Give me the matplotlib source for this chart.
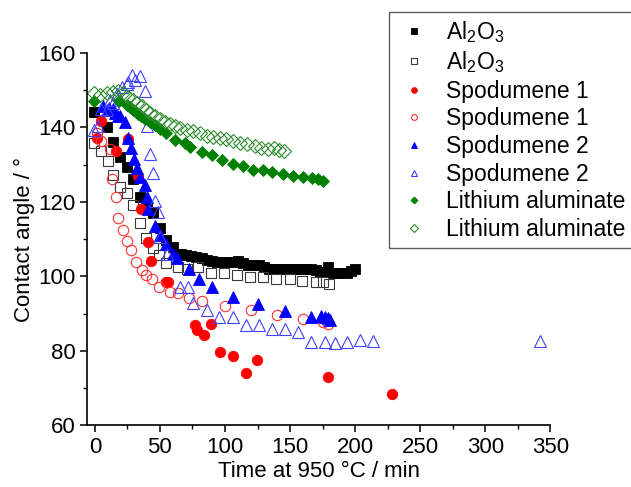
import matplotlib
matplotlib.use("Agg")
import matplotlib.pyplot as plt
from matplotlib.ticker import MultipleLocator

plt.rcParams['font.family'] = ['Liberation Sans', 'DejaVu Sans']
plt.rcParams['mathtext.fontset'] = 'custom'
plt.rcParams['mathtext.rm'] = 'Liberation Sans'
plt.rcParams['mathtext.it'] = 'Liberation Sans'

# Al2O3 (filled / open)
al_fill_x = [-1, 9, 14, 19.5, 25, 29.5, 34.5, 40, 45, 50, 55, 60, 63, 66, 70, 74, 78, 82, 86, 90,
             94, 98, 102, 106, 110, 114, 118, 122, 126, 130, 134, 138, 142, 146, 150, 154, 158, 162,
             166, 170, 173, 176, 179.5, 183, 186, 190, 193.5, 197, 200]
al_fill_y = [144.2, 140.2, 136.2, 132.2, 129.3, 126.1, 121.2, 118.5, 116.9, 112.9, 109.7, 108.0,
             106.1, 105.9, 105.7, 105.4, 105.2, 104.8, 104.4, 104.2, 103.9, 103.9, 103.9, 103.9,
             104.0, 103.6, 103.0, 103.0, 103.0, 102.6, 102.1, 102.1, 102.1, 102.1, 102.1, 102.1,
             102.1, 102.1, 102.1, 101.6, 101.2, 101.2, 102.4, 101.0, 101.0, 101.0, 101.0, 101.4, 102.1]
al_open_x = [-1, 4.5, 10, 14, 19.5, 24.5, 29, 34.5, 39, 44.5, 49, 54.5, 64, 71, 79.5, 89.5, 99.5,
             109.5, 119.5, 129.5, 139.5, 150, 159.5, 170, 175, 180]
al_open_y = [135.8, 133.8, 130.9, 127.2, 124.0, 122.3, 119.1, 114.2, 110.2, 107.5, 105.7, 103.7,
             102.4, 101.9, 102.4, 100.8, 100.8, 100.3, 99.9, 99.9, 99.2, 99.2, 98.7, 98.5, 98.5, 97.9]

# Spodumene 1
sp1_fill_x = [2, 4.5, 16.5, 25.5, 33, 35.5, 41, 43.5, 54.5, 56.5, 77, 78.5, 84, 89, 96, 106, 116,
              124.5, 179, 228]
sp1_fill_y = [137.3, 141.8, 133.6, 137.0, 127.0, 118.0, 109.3, 104.0, 98.5, 98.4, 86.9, 85.5, 84.2,
              87.1, 79.7, 78.5, 74.1, 77.4, 73.0, 68.3]
sp1_open_x = [2, 5, 11.5, 13.3, 16, 18, 21.8, 24.8, 28, 31.8, 36.4, 39.5, 43.6, 49.5, 57.7, 64, 72,
              82, 100, 120, 139.7, 160, 175.6, 179.5]
sp1_open_y = [138.5, 136.5, 134.3, 126.1, 121.2, 115.8, 112.5, 109.5, 107.0, 103.9, 101.7, 100.3,
              99.2, 97.2, 95.7, 95.6, 94.2, 93.3, 92.0, 90.9, 89.7, 88.4, 87.8, 87.3]

# Spodumene 2
sp2_fill_x = [6.5, 11, 14, 15.5, 18, 19.5, 23, 25.6, 27.5, 30, 32.6, 34.6, 38.5, 40, 41, 46, 50, 55,
              60, 63, 72, 80, 90, 106, 125, 146, 166, 174, 177, 179, 181]
sp2_fill_y = [145.7, 145.2, 145.1, 143.9, 143.0, 143.0, 141.5, 137.1, 134.5, 131.4, 129.0, 126.8,
              124.5, 121.4, 118.2, 113.4, 111.1, 108.8, 106.1, 105.0, 101.9, 99.2, 97.0, 94.5, 92.5,
              90.6, 89.1, 89.3, 89.0, 88.7, 88.2]
sp2_open_x = [-1, 2.5, 5, 9, 11.5, 20.5, 24.5, 25.6, 28.2, 30.8, 34.6, 38.5, 40, 42, 44.8, 46.2,
              48.5, 50, 55.8, 65.6, 71.8, 75.6, 86, 95.6, 106, 116, 126, 136, 146, 156.4, 166, 177,
              184.6, 194, 204, 214, 342, 14, 17]
sp2_open_y = [139.2, 140.3, 145.1, 144.7, 147.5, 151.0, 151.8, 152.3, 154.1, 152.7, 153.9, 149.7,
              140.5, 132.8, 127.9, 120.3, 117.4, 110.7, 106.1, 97.2, 97.2, 92.9, 90.9, 89.1, 89.1,
              86.9, 86.8, 85.8, 85.8, 85.1, 82.3, 82.3, 82.0, 82.3, 82.8, 82.6, 82.6, 146.5, 149.0]

# Lithium aluminate
li_fill_x = [-1, 18.5, 24.5, 27, 29.5, 31.5, 33.5, 35.5, 38.5, 42.3, 46.2, 50, 55, 61.5, 69, 73, 82,
             89.7, 98, 106, 113.6, 121.8, 129, 136, 144.6, 152, 160, 167, 171.5, 175.5]
li_fill_y = [147.0, 147.2, 146.0, 145.5, 144.8, 144.2, 143.6, 143.0, 142.4, 141.6, 140.6, 139.7,
             138.4, 136.6, 135.7, 134.7, 133.5, 132.6, 131.2, 130.3, 129.6, 128.7, 128.5, 128.1,
             127.5, 127.0, 126.7, 126.4, 126.1, 125.7]
li_open_x = [-1, 4, 9, 14, 18, 21.8, 25.6, 29, 32, 36, 39.2, 42.3, 46.2, 50, 53.8, 57.7, 61.5, 65.4,
             70.5, 75.6, 80.8, 86, 91, 96, 101, 106, 111.5, 116.7, 123, 128, 133, 137.5, 141.5, 145.5]
li_open_y = [149.4, 148.7, 149.2, 149.6, 149.9, 149.2, 148.3, 147.4, 146.7, 145.7, 144.8, 143.9,
             143.0, 142.3, 141.6, 141.0, 140.3, 139.9, 139.4, 139.0, 138.4, 137.8, 137.5, 137.2,
             136.8, 136.3, 135.9, 135.5, 135.0, 134.6, 134.3, 134.5, 134.0, 133.7]

fig = plt.figure(figsize=(6.31, 4.87), dpi=100)
ax = fig.add_axes([0.138, 0.127, 0.734, 0.764])

al = 'Al$_2$O$_3$'
series = [
    (al_fill_x, al_fill_y, 's', 'black', True, al, 7),
    (al_open_x, al_open_y, 's', '#3a3a3a', False, al, 7),
    (sp1_fill_x, sp1_fill_y, 'o', '#ff0000', True, 'Spodumene 1', 7.5),
    (sp1_open_x, sp1_open_y, 'o', '#ff3030', False, 'Spodumene 1', 7.5),
    (sp2_fill_x, sp2_fill_y, '^', '#0000ff', True, 'Spodumene 2', 8),
    (sp2_open_x, sp2_open_y, '^', '#4040ff', False, 'Spodumene 2', 8),
    (li_fill_x, li_fill_y, 'D', '#008000', True, 'Lithium aluminate', 6.5),
    (li_open_x, li_open_y, 'D', '#2e8b2e', False, 'Lithium aluminate', 7),
]
for x, y, m, c, filled, lab, ms in series:
    ax.plot(x, y, linestyle='none', marker=m, markersize=ms,
            markerfacecolor=c if filled else 'none', markeredgecolor=c,
            markeredgewidth=0.6 if filled else 0.8, label=lab, clip_on=False)

ax.set_xlim(-6, 350)
ax.set_ylim(60, 160)
ax.xaxis.set_major_locator(MultipleLocator(50))
ax.xaxis.set_minor_locator(MultipleLocator(25))
ax.yaxis.set_major_locator(MultipleLocator(20))
ax.yaxis.set_minor_locator(MultipleLocator(10))
ax.spines['top'].set_visible(False)
ax.spines['right'].set_visible(False)
ax.spines['left'].set_bounds(60, 160)
ax.spines['bottom'].set_bounds(-6, 350)
for s in ('left', 'bottom'):
    ax.spines[s].set_linewidth(1.2)
ax.tick_params(which='major', direction='out', length=5, width=1.1, labelsize=16)
ax.tick_params(which='minor', direction='out', length=3, width=1.0)
ax.set_xlabel('Time at 950 °C / min', fontsize=16, labelpad=2)
ax.set_ylabel('Contact angle / °', fontsize=16, labelpad=2)

leg = fig.legend(loc='upper left', bbox_to_anchor=(389 / 631, 1 - 12 / 487),
                 fontsize=16.5, markerscale=0.55, frameon=True, fancybox=False,
                 edgecolor='#333333', borderpad=0.3, labelspacing=0.2,
                 handletextpad=0.6, handlelength=1.6, borderaxespad=0)
leg.get_frame().set_linewidth(1.0)

fig.savefig('out.png', dpi=100)
